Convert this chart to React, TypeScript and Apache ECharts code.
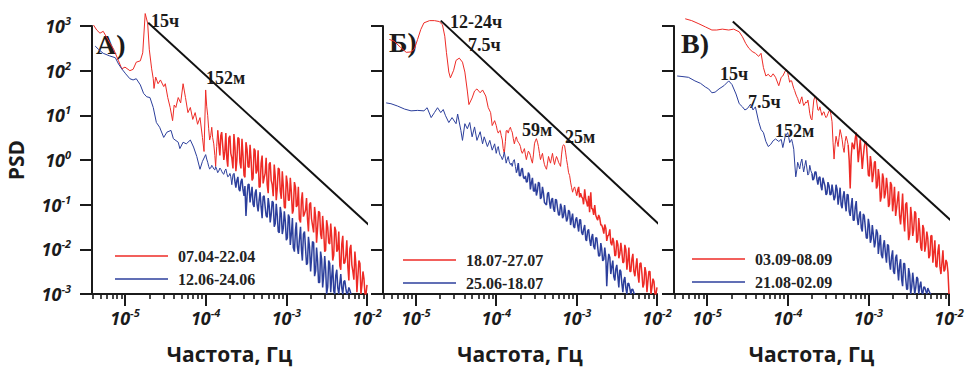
import React, { useEffect, useRef } from 'react';
import * as echarts from 'echarts';

// ---------- shared frequency grids for the high-frequency (noisy) part ----------
const bandFreqs = [
  1.00e-4, 1.06e-4, 1.12e-4, 1.19e-4, 1.26e-4, 1.33e-4, 1.41e-4, 1.50e-4, 1.58e-4, 1.68e-4,
  1.78e-4, 1.88e-4, 2.00e-4, 2.11e-4, 2.24e-4, 2.37e-4, 2.51e-4, 2.66e-4, 2.82e-4, 2.99e-4,
  3.16e-4, 3.35e-4, 3.55e-4, 3.76e-4, 3.98e-4, 4.22e-4, 4.47e-4, 4.73e-4, 5.01e-4, 5.31e-4,
  5.62e-4, 5.96e-4, 6.31e-4, 6.68e-4, 7.08e-4, 7.50e-4, 7.94e-4, 8.41e-4, 8.91e-4, 9.44e-4,
  1.00e-3, 1.06e-3, 1.12e-3, 1.19e-3, 1.26e-3, 1.33e-3, 1.41e-3, 1.50e-3, 1.58e-3, 1.68e-3,
  1.78e-3, 1.88e-3, 2.00e-3, 2.11e-3, 2.24e-3, 2.37e-3, 2.51e-3, 2.66e-3, 2.82e-3, 2.99e-3,
  3.16e-3, 3.35e-3, 3.55e-3, 3.76e-3, 3.98e-3, 4.22e-3, 4.47e-3, 4.73e-3, 5.01e-3, 5.31e-3,
  5.62e-3, 5.96e-3, 6.31e-3, 6.68e-3, 7.08e-3, 7.50e-3, 7.94e-3, 8.41e-3, 8.91e-3, 9.44e-3,
  1.00e-2,
];
const bandMidFreqs = [
  1.03e-4, 1.09e-4, 1.155e-4, 1.22e-4, 1.30e-4, 1.37e-4, 1.45e-4, 1.54e-4, 1.63e-4, 1.73e-4,
  1.83e-4, 1.94e-4, 2.05e-4, 2.18e-4, 2.31e-4, 2.44e-4, 2.59e-4, 2.74e-4, 2.90e-4, 3.07e-4,
  3.26e-4, 3.45e-4, 3.65e-4, 3.87e-4, 4.10e-4, 4.34e-4, 4.60e-4, 4.87e-4, 5.16e-4, 5.46e-4,
  5.79e-4, 6.13e-4, 6.49e-4, 6.88e-4, 7.29e-4, 7.72e-4, 8.18e-4, 8.66e-4, 9.17e-4, 9.72e-4,
  1.03e-3, 1.09e-3, 1.155e-3, 1.22e-3, 1.30e-3, 1.37e-3, 1.45e-3, 1.54e-3, 1.63e-3, 1.73e-3,
  1.83e-3, 1.94e-3, 2.05e-3, 2.18e-3, 2.31e-3, 2.44e-3, 2.59e-3, 2.74e-3, 2.90e-3, 3.07e-3,
  3.26e-3, 3.45e-3, 3.65e-3, 3.87e-3, 4.10e-3, 4.34e-3, 4.60e-3, 4.87e-3, 5.16e-3, 5.46e-3,
  5.79e-3, 6.13e-3, 6.49e-3, 6.88e-3, 7.29e-3, 7.72e-3, 8.18e-3, 8.66e-3, 9.17e-3, 9.72e-3,
];

// ---------- Panel А ----------
const redA_name = '07.04-22.04';
const redA_lowF = [4.07e-6, 4.47e-6, 4.9e-6, 5.37e-6, 6.17e-6, 7.24e-6, 8.32e-6, 9.12e-6, 1.0e-5, 1.15e-5, 1.26e-5, 1.38e-5, 1.55e-5, 1.66e-5, 1.78e-5, 1.91e-5, 2.0e-5, 2.14e-5, 2.24e-5, 2.29e-5, 2.40e-5, 2.57e-5, 2.75e-5, 3.02e-5, 3.16e-5, 3.39e-5, 3.63e-5, 3.89e-5, 4.07e-5, 4.27e-5, 4.57e-5, 4.90e-5, 5.25e-5, 5.62e-5, 6.03e-5, 6.46e-5, 6.92e-5, 7.41e-5, 7.94e-5, 8.51e-5, 9.12e-5, 9.55e-5];
const redA_lowP = [1050, 810, 690, 760, 490, 300, 166, 110, 120, 100, 107, 155, 166, 251, 1900, 1150, 302, 110, 66, 40, 72, 51, 62, 44, 51, 25, 15, 7.6, 17, 15, 25, 19, 51, 25, 11.5, 15, 8.1, 11.5, 6.3, 8.9, 3.2, 1.55];
const redA_band = [
  37, 10, 2.8, 5.4, 2.3, 0.72, 4.6, 1.26, 4.2, 1.0,
  4.0, 0.71, 3.5, 1.12, 3.8, 0.56, 3.2, 0.89, 3.0, 0.45,
  2.5, 0.71, 2.2, 0.35, 1.8, 0.5, 1.66, 0.25, 1.26, 0.4,
  1.12, 0.18, 0.89, 0.28, 0.79, 0.126, 0.66, 0.2, 0.56, 0.089,
  0.45, 0.126, 0.4, 0.063, 0.32, 0.089, 0.25, 0.04, 0.19, 0.063,
  0.14, 0.025, 0.112, 0.035, 0.089, 0.014, 0.071, 0.022, 0.056, 0.0089,
  0.045, 0.014, 0.038, 0.0056, 0.032, 0.0089, 0.025, 0.0035, 0.02, 0.005,
  0.016, 0.002, 0.0126, 0.0032, 0.0089, 0.0011, 0.0056, 0.001, 0.0032, 0.001,
  0.0016,
];
const redA_mid = [
  16, 5.0, 3.5, 3.2, 1.26, 2.0, 2.5, 3.5, 2.0, 1.58,
  1.07, 3.1, 1.41, 0.65, 1.9, 1.02, 3.0, 0.65, 1.32, 0.41,
  1.74, 0.68, 1.1, 0.39, 1.62, 0.58, 0.245, 0.85, 0.30, 0.5,
  0.28, 0.81, 0.35, 0.155, 0.43, 0.23, 0.62, 0.135, 0.26, 0.083,
  0.30, 0.126, 0.19, 0.074, 0.245, 0.098, 0.047, 0.129, 0.054, 0.076,
  0.047, 0.102, 0.049, 0.024, 0.052, 0.0295, 0.067, 0.017, 0.0275, 0.0095,
  0.031, 0.0132, 0.019, 0.0074, 0.026, 0.0098, 0.0043, 0.0132, 0.0048, 0.0072,
  0.0041, 0.0102, 0.0045, 0.0021, 0.0045, 0.0026, 0.0048, 0.0016, 0.0022, 0.001,
];
const blueA_name = '12.06-24.06';
const blueA_lowF = [4.27e-6, 4.68e-6, 5.37e-6, 6.46e-6, 7.59e-6, 8.32e-6, 9.12e-6, 1.02e-5, 1.15e-5, 1.26e-5, 1.38e-5, 1.55e-5, 1.70e-5, 1.86e-5, 2.04e-5, 2.24e-5, 2.45e-5, 2.69e-5, 3.02e-5, 3.31e-5, 3.72e-5, 3.98e-5, 4.57e-5, 4.79e-5, 5.25e-5, 5.75e-5, 6.46e-5, 7.08e-5, 7.76e-5, 8.51e-5, 9.12e-5];
const blueA_lowP = [355, 302, 245, 214, 195, 141, 110, 85, 66, 62, 66, 48, 31, 26, 25, 15, 6.9, 5.4, 3.2, 4.2, 4.6, 3.0, 2.5, 1.8, 2.5, 2.3, 2.8, 1.95, 1.2, 0.62, 0.93];
const blueA_band = [
  1.32, 0.89, 0.63, 0.76, 0.63, 0.71, 0.52, 0.66, 0.56, 0.48,
  0.63, 0.42, 0.5, 0.28, 0.5, 0.24, 0.42, 0.2, 0.38, 0.158,
  0.056, 0.28, 0.112, 0.25, 0.089, 0.22, 0.071, 0.19, 0.05, 0.158,
  0.056, 0.14, 0.04, 0.12, 0.032, 0.105, 0.025, 0.089, 0.022, 0.071,
  0.016, 0.06, 0.0126, 0.05, 0.0089, 0.04, 0.0079, 0.032, 0.0056, 0.025,
  0.0045, 0.019, 0.0032, 0.015, 0.0025, 0.011, 0.0018, 0.0089, 0.0014, 0.0071,
  0.001, 0.0056, 0.0011, 0.0045, 0.001, 0.0035, 0.001, 0.0028, 0.001, 0.002,
  0.001, 0.0014, 0.001,
];
const blueA_mid = [
  1.05, 0.72, 0.66, 0.71, 0.6, 0.62, 0.56, 0.62, 0.5, 0.58,
  0.5, 0.44, 0.42, 0.47, 0.32, 0.35, 0.22, 0.33, 0.22, 0.26,
  0.155, 0.29, 0.166, 0.102, 0.18, 0.102, 0.126, 0.089, 0.15, 0.091,
  0.052, 0.095, 0.06, 0.112, 0.038, 0.058, 0.0235, 0.062, 0.03, 0.042,
  0.018, 0.052, 0.0224, 0.011, 0.0275, 0.0115, 0.0162, 0.0098, 0.022, 0.0105,
  0.0049, 0.0112, 0.006, 0.014, 0.0033, 0.0056, 0.0018, 0.006, 0.0025, 0.0037,
  0.00145, 0.0048, 0.0024, 0.00117, 0.0026, 0.00138, 0.00174, 0.00135, 0.0019, 0.00135,
  0.00107, 0.00123,
];
const refA = [[1.94e-5, 1180], [1.06e-2, 0.035]];

// ---------- Panel Б ----------
const redB_name = '18.07-27.07';
const redB_lowF = [4.68e-6, 5.37e-6, 6.46e-6, 7.59e-6, 8.71e-6, 9.55e-6, 1.05e-5, 1.15e-5, 1.26e-5, 1.48e-5, 1.70e-5, 1.95e-5, 2.14e-5, 2.29e-5, 2.40e-5, 2.57e-5, 2.69e-5, 2.95e-5, 3.16e-5, 3.47e-5, 3.80e-5, 4.07e-5, 4.37e-5, 4.57e-5, 5.01e-5, 5.37e-5, 5.75e-5, 6.31e-5, 6.76e-5, 7.41e-5, 7.94e-5, 8.51e-5, 8.91e-5, 9.55e-5];
const redB_lowP = [500, 457, 331, 257, 263, 302, 500, 832, 1175, 1320, 1320, 1260, 1070, 590, 257, 93, 69, 102, 170, 191, 155, 93, 35, 17.4, 24.5, 35, 39, 32, 37, 27, 15, 11.5, 5.9, 7.6];
const redB_band = [
  5.9, 4.0, 4.6, 2.8, 1.41, 4.5, 4.0, 5.4, 4.2, 2.3,
  3.3, 2.5, 2.0, 1.41, 1.8, 1.02, 1.58, 1.26, 0.85, 2.3,
  3.0, 2.0, 1.02, 1.41, 0.79, 0.62, 1.2, 0.85, 1.41, 0.79,
  1.2, 0.89, 0.72, 2.0, 2.1, 1.02, 0.52, 0.32, 0.19, 0.25,
  0.16, 0.25, 0.18, 0.138, 0.22, 0.115, 0.158, 0.19, 0.081, 0.098,
  0.05, 0.059, 0.035, 0.03, 0.036, 0.0155, 0.021, 0.014, 0.018, 0.0071,
  0.016, 0.0063, 0.014, 0.005, 0.0126, 0.0035, 0.011, 0.0032, 0.0079, 0.0025,
  0.0063, 0.0018, 0.005, 0.0014, 0.004, 0.0011, 0.0032, 0.001, 0.0022, 0.001,
  0.0014,
];
const redB_mid = [
  4.6, 4.4, 3.5, 1.8, 2.6, 4.6, 4.8, 4.6, 3.0, 2.9,
  2.7, 2.3, 1.6, 1.6, 1.3, 1.3, 1.45, 1.0, 1.3, 2.7,
  2.5, 1.4, 1.2, 1.0, 0.68, 0.85, 1.0, 1.1, 1.0, 1.0,
  1.05, 0.8, 1.3, 2.2, 1.5, 0.75, 0.45, 0.24, 0.23, 0.2,
  0.21, 0.145, 0.15, 0.102, 0.132, 0.091, 0.068, 0.081, 0.059, 0.058,
  0.045, 0.05, 0.035, 0.0224, 0.0295, 0.02, 0.028, 0.0123, 0.0145, 0.0075,
  0.0129, 0.0079, 0.0091, 0.0052, 0.01, 0.0056, 0.0032, 0.006, 0.0032, 0.004,
  0.0027, 0.0048, 0.0029, 0.0017, 0.003, 0.002, 0.0032, 0.0014, 0.0019, 0.001,
];
const blueB_name = '25.06-18.07';
const blueB_lowF = [4.27e-6, 4.90e-6, 5.89e-6, 7.24e-6, 8.71e-6, 1.05e-5, 1.26e-5, 1.38e-5, 1.55e-5, 1.70e-5, 1.86e-5, 2.04e-5, 2.19e-5, 2.34e-5, 2.57e-5, 2.82e-5, 3.16e-5, 3.31e-5, 3.63e-5, 3.80e-5, 4.07e-5, 4.37e-5, 4.68e-5, 5.01e-5, 5.37e-5, 5.75e-5, 6.31e-5, 6.76e-5, 7.08e-5, 7.76e-5, 8.32e-5, 8.91e-5, 9.55e-5];
const blueB_lowP = [19, 18.2, 16.2, 13.8, 12.6, 12.9, 12.6, 14.8, 8.9, 11.5, 14.8, 11.5, 13.5, 9.8, 6.9, 8.9, 6.5, 10.7, 4.6, 2.75, 6.5, 5.0, 6.9, 3.3, 5.5, 2.75, 4.3, 2.3, 3.3, 2.0, 2.75, 1.66, 2.3];
const blueB_band = [
  1.41, 2.0, 1.26, 1.02, 1.51, 0.85, 1.2, 0.79, 0.72, 1.02,
  0.52, 0.85, 0.44, 0.66, 0.38, 0.32, 0.52, 0.22, 0.4, 0.2,
  0.16, 0.32, 0.135, 0.25, 0.112, 0.098, 0.19, 0.081, 0.14, 0.069,
  0.126, 0.059, 0.105, 0.05, 0.098, 0.042, 0.076, 0.035, 0.063, 0.03,
  0.052, 0.025, 0.046, 0.021, 0.035, 0.0155, 0.028, 0.012, 0.022, 0.01,
  0.018, 0.0071, 0.0138, 0.0055, 0.011, 0.0015, 0.0079, 0.0028, 0.0056, 0.002,
  0.0045, 0.0014, 0.0032, 0.0011, 0.0024, 0.001, 0.0017, 0.001, 0.00126, 0.001,
];
const blueB_mid = [
  1.8, 1.5, 1.2, 1.15, 1.1, 1.05, 0.92, 0.85, 0.95, 0.72,
  0.63, 0.45, 0.6, 0.41, 0.44, 0.33, 0.46, 0.31, 0.204, 0.295,
  0.21, 0.30, 0.148, 0.182, 0.105, 0.174, 0.115, 0.129, 0.081, 0.132,
  0.083, 0.059, 0.087, 0.056, 0.063, 0.049, 0.069, 0.048, 0.033, 0.046,
  0.035, 0.046, 0.024, 0.0275, 0.0166, 0.0257, 0.017, 0.0186, 0.0117, 0.0182,
  0.0112, 0.0072, 0.0105, 0.006, 0.0066, 0.0047, 0.0066, 0.0041, 0.00245, 0.0036,
  0.00245, 0.0035, 0.00174, 0.002, 0.00135, 0.00174, 0.00132, 0.00129, 0.00105,
];
const refB = [[2.04e-5, 1320], [1.08e-2, 0.035]];

// ---------- Panel В ----------
const redC_name = '03.09-08.09';
const redC_lowF = [5.37e-6, 6.46e-6, 7.94e-6, 9.55e-6, 1.15e-5, 1.32e-5, 1.55e-5, 1.86e-5, 2.14e-5, 2.51e-5, 2.75e-5, 3.02e-5, 3.31e-5, 3.63e-5, 3.98e-5, 4.37e-5, 4.68e-5, 5.01e-5, 5.37e-5, 5.75e-5, 6.17e-5, 6.61e-5, 7.08e-5, 7.76e-5, 8.32e-5, 8.71e-5, 9.55e-5];
const redC_lowP = [1450, 1320, 1120, 955, 813, 813, 851, 813, 851, 741, 575, 407, 316, 269, 245, 209, 245, 117, 76, 83, 72, 85, 71, 46, 71, 76, 107];
const redC_band = [
  91, 55, 59, 40, 30, 24, 18, 26, 16.6, 20,
  22, 11, 7.9, 22, 26, 13.2, 15.5, 10, 12, 8.9,
  11, 13.2, 7.2, 1.05, 3.4, 2.0, 4.8, 2.9, 1.48, 3.4,
  2.2, 0.23, 2.45, 1.74, 4.1, 0.89, 2.9, 0.63, 2.0, 2.45,
  0.46, 1.23, 0.32, 0.89, 0.23, 0.63, 0.117, 0.5, 0.138, 0.4,
  0.089, 0.32, 0.071, 0.25, 0.083, 0.2, 0.036, 0.178, 0.025, 0.112,
  0.016, 0.089, 0.02, 0.071, 0.014, 0.05, 0.011, 0.035, 0.0089, 0.025,
  0.0063, 0.02, 0.005, 0.016, 0.004, 0.013, 0.0028, 0.0095, 0.0035, 0.005,
  0.001,
];
const redC_mid = [
  70, 60, 48, 36, 26, 20, 22, 20, 18, 19,
  16, 8.5, 13, 26, 18, 13, 12, 11.5, 10, 9.5,
  12.5, 10, 2.5, 2.2, 2.6, 3.2, 3.8, 1.9, 2.6, 2.8,
  1.0, 1.2, 2.1, 3.0, 2.2, 1.6, 1.4, 1.2, 2.6, 1.1,
  0.43, 0.83, 0.48, 0.93, 0.27, 0.4, 0.151, 0.39, 0.182, 0.234,
  0.102, 0.275, 0.117, 0.056, 0.138, 0.056, 0.078, 0.046, 0.102, 0.048,
  0.022, 0.051, 0.0275, 0.065, 0.0162, 0.027, 0.0093, 0.029, 0.0126, 0.0178,
  0.0074, 0.0204, 0.0085, 0.0042, 0.0091, 0.0041, 0.0051, 0.0032, 0.0058, 0.003,
];
const blueC_name = '21.08-02.09';
const blueC_lowF = [4.27e-6, 4.90e-6, 5.89e-6, 7.08e-6, 8.32e-6, 9.55e-6, 1.05e-5, 1.15e-5, 1.26e-5, 1.41e-5, 1.62e-5, 1.86e-5, 2.04e-5, 2.29e-5, 2.51e-5, 2.75e-5, 2.95e-5, 3.16e-5, 3.47e-5, 3.72e-5, 3.98e-5, 4.37e-5, 4.68e-5, 5.01e-5, 5.37e-5, 5.75e-5, 6.17e-5, 6.61e-5, 7.08e-5, 7.76e-5, 8.32e-5, 8.71e-5, 9.33e-5];
const blueC_lowP = [76, 74, 71, 59, 52, 43, 39, 32, 33, 39, 46, 59, 49, 30, 18.2, 15.5, 13.2, 14.1, 17.8, 13.2, 15.5, 7.2, 4.8, 4.1, 2.6, 2.0, 2.24, 2.7, 2.95, 2.6, 2.9, 1.9, 3.4];
const blueC_band = [
  4.1, 2.45, 2.9, 1.74, 0.42, 0.89, 0.63, 1.05, 0.54, 0.98,
  0.46, 0.76, 0.5, 0.38, 0.54, 0.28, 0.42, 0.21, 0.32, 0.166,
  0.32, 0.166, 0.28, 0.126, 0.28, 0.1, 0.24, 0.083, 0.2, 0.071,
  0.166, 0.056, 0.141, 0.045, 0.12, 0.035, 0.071, 0.025, 0.056, 0.018,
  0.048, 0.014, 0.035, 0.011, 0.028, 0.0079, 0.021, 0.0063, 0.016, 0.005,
  0.012, 0.0035, 0.0095, 0.0028, 0.0076, 0.002, 0.006, 0.0015, 0.0048, 0.00126,
  0.0038, 0.001, 0.003, 0.001, 0.0024, 0.001, 0.0019, 0.001, 0.0014, 0.001,
  0.0012, 0.001,
];
const blueC_mid = [
  3.2, 2.7, 2.3, 0.9, 0.6, 0.75, 0.85, 0.72, 0.75, 0.66,
  0.5, 0.575, 0.355, 0.54, 0.363, 0.4, 0.257, 0.4, 0.263, 0.178,
  0.263, 0.17, 0.195, 0.148, 0.219, 0.148, 0.098, 0.151, 0.107, 0.17,
  0.071, 0.093, 0.045, 0.087, 0.049, 0.058, 0.03, 0.062, 0.0316, 0.0178,
  0.034, 0.0174, 0.021, 0.0141, 0.023, 0.0132, 0.0076, 0.0126, 0.0081, 0.0129,
  0.0051, 0.0068, 0.0032, 0.0065, 0.0035, 0.0044, 0.0021, 0.0048, 0.0023, 0.0013,
  0.0027, 0.00145, 0.00186, 0.00138, 0.0022, 0.00148, 0.0011, 0.00145, 0.00117, 0.00135,
  0.00105,
];
const refC = [[2.09e-5, 1260], [1.2e-2, 0.036]];

// ---------- axes ticks ----------
const xMajorTicks = [1e-5, 1e-4, 1e-3, 1e-2];
const xMinorTicks = [
  4e-6, 5e-6, 6e-6, 7e-6, 8e-6, 9e-6,
  2e-5, 3e-5, 4e-5, 5e-5, 6e-5, 7e-5, 8e-5, 9e-5,
  2e-4, 3e-4, 4e-4, 5e-4, 6e-4, 7e-4, 8e-4, 9e-4,
  2e-3, 3e-3, 4e-3, 5e-3, 6e-3, 7e-3, 8e-3, 9e-3,
];
const yMajorTicks = [1e-3, 1e-2, 1e-1, 1, 10, 100, 1000];

const xLabel = 'Частота, Гц';
const yLabel = 'PSD';

const annotations = [
  { text: 'А)', x: 96, y: 44, size: 28 },
  { text: '15ч', x: 151, y: 21, size: 18 },
  { text: '152м', x: 206, y: 78, size: 18 },
  { text: 'Б)', x: 389, y: 42, size: 28 },
  { text: '12-24ч', x: 450, y: 22, size: 18 },
  { text: '7.5ч', x: 468, y: 45, size: 18 },
  { text: '59м', x: 522, y: 130, size: 18 },
  { text: '25м', x: 565, y: 137, size: 18 },
  { text: 'В)', x: 681, y: 43, size: 28 },
  { text: '15ч', x: 720, y: 74, size: 18 },
  { text: '7.5ч', x: 748, y: 102, size: 18 },
  { text: '152м', x: 775, y: 131, size: 18 },
];

const RED = '#ee2b26';
const BLUE = '#2c3f9c';
const INK = '#1b1b1b';

function build(lowF: number[], lowP: number[], band: number[], mid: number[]) {
  const d: number[][] = lowF.map((f, i) => [f, lowP[i]]);
  band.forEach((p, i) => {
    d.push([bandFreqs[i], p]);
    if (i < mid.length) d.push([bandMidFreqs[i], mid[i]]);
  });
  return d;
}
// split a spectrum into its smoother part (thin stroke) and its noisy part (slightly heavier stroke)
function split(data: number[][], lowLen: number, bandIdx: number) {
  const k = lowLen + bandIdx * 2;
  return { thin: data.slice(0, k + 1), thick: data.slice(k) };
}

const supRich = {
  b: { fontFamily: '"Open Sans"', fontStyle: 'italic', fontWeight: 'bold', fontSize: 18, color: INK, lineHeight: 22 },
  s: { fontFamily: '"Open Sans"', fontStyle: 'italic', fontWeight: 'bold', fontSize: 11, color: INK, verticalAlign: 'top', lineHeight: 12 },
};
const powLabel = (v: number) => `{b|10}{s|${Math.round(Math.log10(v))}}`;

export default function App() {
  const ref = useRef<HTMLDivElement>(null);
  useEffect(() => {
    if (!ref.current) return;
    const chart = echarts.init(ref.current, undefined, { renderer: 'svg' });
    const grids = [
      { left: 92, top: 26, width: 275, height: 275 },
      { left: 383, top: 26, width: 274, height: 275 },
      { left: 674, top: 26, width: 275, height: 275 },
    ];
    const panels = [
      {
        red: split(build(redA_lowF, redA_lowP, redA_band, redA_mid), redA_lowF.length, 6), redName: redA_name,
        blue: split(build(blueA_lowF, blueA_lowP, blueA_band, blueA_mid), blueA_lowF.length, 14), blueName: blueA_name,
        refLine: refA, legendLeft: 110, legendTop: 243,
      },
      {
        red: split(build(redB_lowF, redB_lowP, redB_band, redB_mid), redB_lowF.length, 40), redName: redB_name,
        blue: split(build(blueB_lowF, blueB_lowP, blueB_band, blueB_mid), blueB_lowF.length, 10), blueName: blueB_name,
        refLine: refB, legendLeft: 398, legendTop: 247,
      },
      {
        red: split(build(redC_lowF, redC_lowP, redC_band, redC_mid), redC_lowF.length, 30), redName: redC_name,
        blue: split(build(blueC_lowF, blueC_lowP, blueC_band, blueC_mid), blueC_lowF.length, 12), blueName: blueC_name,
        refLine: refC, legendLeft: 687, legendTop: 246,
      },
    ];
    const xAxis: any[] = [];
    const yAxis: any[] = [];
    const series: any[] = [];
    const legend: any[] = [];
    panels.forEach((p, i) => {
      xAxis.push({
        type: 'log', logBase: 10, gridIndex: i, min: 3.9e-6, max: 1e-2, position: 'bottom',
        axisLine: { show: true, onZero: false, lineStyle: { color: INK, width: 2 } },
        axisTick: { show: true, length: 12, customValues: xMajorTicks, lineStyle: { color: INK, width: 2 } },
        axisLabel: { show: true, customValues: xMajorTicks, margin: 13, formatter: powLabel, rich: supRich },
        splitLine: { show: false }, minorTick: { show: false },
        name: xLabel, nameLocation: 'middle', nameGap: 49,
        nameTextStyle: { fontFamily: '"Open Sans"', fontWeight: 'bold', fontSize: 21, color: INK },
      });
      xAxis.push({
        type: 'log', logBase: 10, gridIndex: i, min: 3.9e-6, max: 1e-2, position: 'bottom',
        axisLine: { show: false },
        axisTick: { show: true, length: 5, customValues: xMinorTicks, lineStyle: { color: INK, width: 1.6 } },
        axisLabel: { show: false }, splitLine: { show: false },
      });
      yAxis.push({
        type: 'log', logBase: 10, gridIndex: i, min: 1e-3, max: 1e3,
        axisLine: { show: true, onZero: false, lineStyle: { color: INK, width: 2 } },
        axisTick: { show: true, length: 12, customValues: yMajorTicks, lineStyle: { color: INK, width: 2 } },
        axisLabel: { show: i === 0, customValues: yMajorTicks, margin: 21, formatter: powLabel, rich: supRich },
        splitLine: { show: false },
        name: i === 0 ? yLabel : '', nameLocation: 'middle', nameGap: 66, nameRotate: 90,
        nameTextStyle: { fontFamily: '"Open Sans"', fontWeight: 'bold', fontSize: 21, color: INK },
      });
      const common = { type: 'line', xAxisIndex: i * 2, yAxisIndex: i, symbol: 'none', showSymbol: false, clip: false, silent: true };
      series.push({ ...common, name: p.redName, data: p.red.thin, lineStyle: { color: RED, width: 1 }, itemStyle: { color: RED }, z: 2 });
      series.push({ ...common, name: p.redName, data: p.red.thick, lineStyle: { color: RED, width: 1.5 }, itemStyle: { color: RED }, z: 2 });
      series.push({ ...common, name: p.blueName, data: p.blue.thin, lineStyle: { color: BLUE, width: 1 }, itemStyle: { color: BLUE }, z: 3 });
      series.push({ ...common, name: p.blueName, data: p.blue.thick, lineStyle: { color: BLUE, width: 1.5 }, itemStyle: { color: BLUE }, z: 3 });
      series.push({ ...common, name: 'ref' + i, data: p.refLine, lineStyle: { color: '#111', width: 2 }, itemStyle: { color: '#111' }, z: 4 });
      legend.push({
        data: [p.redName, p.blueName], orient: 'vertical', left: p.legendLeft, top: p.legendTop,
        icon: 'rect', itemWidth: 53, itemHeight: 1.5, itemGap: 7, selectedMode: false,
        textStyle: { fontFamily: '"Liberation Serif"', fontWeight: 'bold', fontSize: 16, color: '#222', padding: [0, 0, 0, 5] },
      });
    });
    chart.setOption({
      animation: false,
      backgroundColor: '#ffffff',
      grid: grids,
      xAxis, yAxis, series, legend,
      graphic: annotations.map((a) => ({
        type: 'text', x: a.x, y: a.y, silent: true,
        style: { text: a.text, fontFamily: '"Liberation Serif"', fontWeight: 'bold', fontSize: a.size, fill: '#1b1b1b', verticalAlign: 'middle', align: 'left' },
      })),
    });
    return () => chart.dispose();
  }, []);
  return <div ref={ref} style={{ position: 'fixed', left: 0, top: 0, width: 971, height: 369, background: '#fff' }} />;
}
